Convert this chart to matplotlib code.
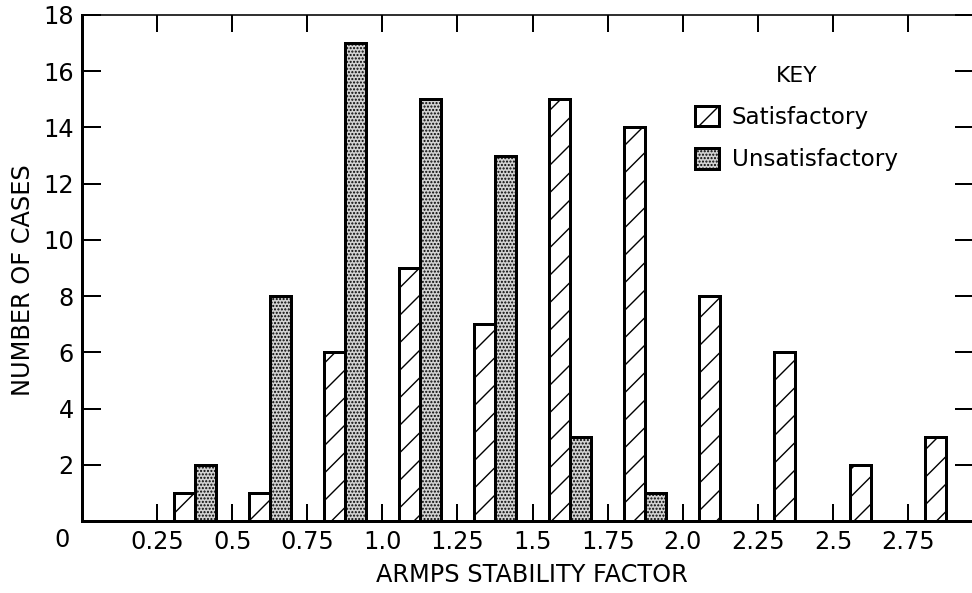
import matplotlib
matplotlib.use("Agg")
import matplotlib.pyplot as plt
from matplotlib.patches import Patch
import numpy as np

# bins of 0.25 on the ARMPS stability factor
bin_mids = [0.375, 0.625, 0.875, 1.125, 1.375, 1.625, 1.875, 2.125, 2.375, 2.625, 2.875]
satisfactory = [1, 1, 6, 9, 7, 15, 14, 8, 6, 2, 3]
unsatisfactory = [2, 8, 17, 15, 13, 3, 1, 0, 0, 0, 0]
xticks = [0.25, 0.5, 0.75, 1.0, 1.25, 1.5, 1.75, 2.0, 2.25, 2.5, 2.75]
xtick_labels = ["0.25", "0.5", "0.75", "1.0", "1.25", "1.5", "1.75", "2.0", "2.25", "2.5", "2.75"]
yticks = [2, 4, 6, 8, 10, 12, 14, 16, 18]

DPI = 165
PT = 72.0 / DPI  # points per pixel

plt.rcParams['font.family'] = ['DejaVu Sans']
plt.rcParams['hatch.linewidth'] = 1.4 * PT

SAT_HATCH = '//'
UNSAT_HATCH = '........'
UNSAT_FACE = '#d2d2d2'

fig = plt.figure(figsize=(973 / DPI, 593 / DPI), dpi=DPI)
ax = fig.add_axes([82 / 973, 72 / 593, 892 / 973, 506 / 593])

w = 0.07
mids = np.array(bin_mids)
ax.bar(mids - w / 2, satisfactory, width=w, facecolor='white', edgecolor='black',
       linewidth=3 * PT, hatch=SAT_HATCH)
unsat_mask = np.array(unsatisfactory) > 0
ax.bar(mids[unsat_mask] + w / 2, np.array(unsatisfactory)[unsat_mask], width=w,
       facecolor=UNSAT_FACE, edgecolor='black', linewidth=3 * PT, hatch=UNSAT_HATCH)

ax.set_xlim(0, 892 / 300.4)
ax.set_ylim(0, 18)

ax.set_xticks(xticks)
ax.set_xticklabels(xtick_labels)
ax.set_yticks(yticks)
ax.tick_params(axis='x', direction='in', length=17 * PT, width=2 * PT, top=True,
               labelsize=24 * PT, pad=9 * PT)
ax.tick_params(axis='y', direction='in', length=19 * PT, width=2 * PT, right=True,
               labelsize=24 * PT, pad=8 * PT)

for side in ['left', 'bottom']:
    ax.spines[side].set_linewidth(3 * PT)
ax.spines['top'].set_linewidth(1.6 * PT)
ax.spines['right'].set_linewidth(1.6 * PT)

ax.text(-20 / 300.4, -19 / 28.1, "0", ha='center', va='center', fontsize=24 * PT)

ax.set_xlabel("ARMPS STABILITY FACTOR", fontsize=24 * PT, va='center')
ax.xaxis.set_label_coords((532 - 82) / 892, (521 - 575) / 506)
ax.set_ylabel("NUMBER OF CASES", fontsize=24 * PT, va='center')
ax.yaxis.set_label_coords((23 - 82) / 892, (521 - 280) / 506)

handles = [
    Patch(facecolor='white', edgecolor='black', linewidth=3 * PT, hatch='/'),
    Patch(facecolor=UNSAT_FACE, edgecolor='black', linewidth=3 * PT, hatch=UNSAT_HATCH),
]
leg = ax.legend(handles, ["Satisfactory", "Unsatisfactory"], title="KEY",
                loc='upper left', bbox_to_anchor=((695 - 82) / 892, (521 - 66) / 506),
                frameon=False, fontsize=23 * PT, title_fontsize=22 * PT,
                handlelength=1.05, handleheight=1.0, handletextpad=0.55,
                labelspacing=0.85, borderpad=0, borderaxespad=0)
leg._legend_box.align = "center"

fig.savefig("out.png", dpi=DPI)
